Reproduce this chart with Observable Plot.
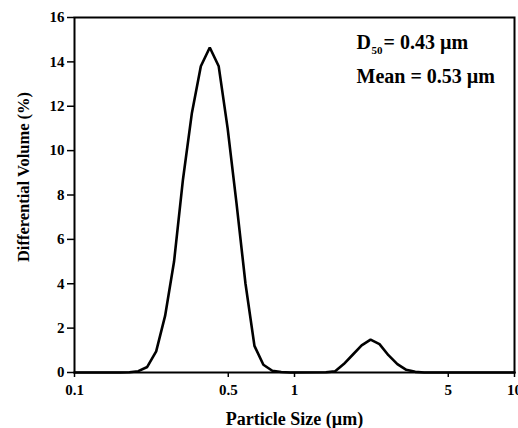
<!DOCTYPE html>
<html>
<head>
<meta charset="utf-8">
<script src="https://cdn.jsdelivr.net/npm/d3@7"></script>
<script src="https://cdn.jsdelivr.net/npm/@observablehq/plot@0.6"></script>
<style>
  html, body { margin: 0; padding: 0; background: #fff; }
  #chart { width: 518px; height: 428px; }
</style>
</head>
<body>
<div id="chart"></div>
<script>
// Particle size (µm), log-spaced channels
const sizes = [0.1, 0.1618, 0.1776, 0.1950, 0.2141, 0.2351, 0.2581, 0.2835, 0.3112, 0.3417, 0.3752,
  0.412, 0.4524, 0.4967, 0.5454, 0.5988, 0.6576, 0.7220, 0.7927, 0.8704, 0.9557,
  1.3891, 1.5253, 1.6747, 1.8389, 2.0191, 2.2170, 2.4342, 2.6728, 2.9348, 3.2223, 3.5381, 3.8848, 10];
// Differential volume (%)
const volumes = [0, 0, 0.01, 0.06, 0.25, 0.95, 2.55, 5.0, 8.7, 11.7, 13.8,
  14.65, 13.8, 11.0, 7.6, 4.0, 1.2, 0.35, 0.08, 0.02, 0,
  0.01, 0.05, 0.38, 0.8, 1.22, 1.48, 1.28, 0.78, 0.38, 0.12, 0.03, 0, 0];

const xTicks = [0.1, 0.5, 1, 5, 10];
const xTickLabels = ["0.1", "0.5", "1", "5", "10"];
const yTicks = [0, 2, 4, 6, 8, 10, 12, 14, 16];
const xTitle = "Particle Size (µm)";
const yTitle = "Differential Volume (%)";
const d50Parts = ["D", "50", "= 0.43 µm"];
const meanText = "Mean = 0.53 µm";

const data = sizes.map((s, i) => ({size: s, vol: volumes[i]}));
const font = "'Liberation Serif', 'Times New Roman', Times, serif";

const plot = Plot.plot({
  width: 518,
  height: 428,
  marginLeft: 74,
  marginRight: 4,
  marginTop: 17,
  marginBottom: 56,
  style: {fontFamily: font, fontWeight: "bold", background: "#fff", color: "#000"},
  x: {type: "log", domain: [0.1, 10]},
  y: {domain: [0, 16]},
  marks: [
    Plot.axisX({ticks: xTicks, tickFormat: (d) => xTickLabels[xTicks.indexOf(d)], tickSize: 5, tickPadding: 7,
      fontSize: 15, fontWeight: "bold", strokeWidth: 1.5, label: null}),
    Plot.axisY({ticks: yTicks, tickSize: 7, tickPadding: 3, fontSize: 15, fontWeight: "bold",
      strokeWidth: 1.5, label: null}),
    Plot.frame({stroke: "#000", strokeWidth: 2}),
    Plot.line(data, {x: "size", y: "vol", stroke: "#000", strokeWidth: 2.6, strokeLinejoin: "miter"}),
    Plot.text([xTitle], {text: d => d, frameAnchor: "bottom", lineAnchor: "bottom", dy: 52,
      fontSize: 18, fontWeight: "bold"}),
    Plot.text([yTitle], {text: d => d, frameAnchor: "left", rotate: -90, textAnchor: "middle",
      lineAnchor: "middle", dx: -51, dy: -18, fontSize: 16.5, fontWeight: "bold"}),
    Plot.text([d50Parts[0]], {text: d => d, frameAnchor: "top-left", textAnchor: "start",
      lineAnchor: "bottom", dx: 282, dy: 31, fontSize: 20, fontWeight: "bold"}),
    Plot.text([d50Parts[1]], {text: d => d, frameAnchor: "top-left", textAnchor: "start",
      lineAnchor: "bottom", dx: 297, dy: 36, fontSize: 11, fontWeight: "bold"}),
    Plot.text([d50Parts[2]], {text: d => d, frameAnchor: "top-left", textAnchor: "start",
      lineAnchor: "bottom", dx: 309, dy: 31, fontSize: 20, fontWeight: "bold"}),
    Plot.text([meanText], {text: d => d, frameAnchor: "top-left", textAnchor: "start",
      lineAnchor: "bottom", dx: 282, dy: 65, fontSize: 20, fontWeight: "bold"})
  ]
});
document.getElementById("chart").appendChild(plot);
</script>
</body>
</html>
